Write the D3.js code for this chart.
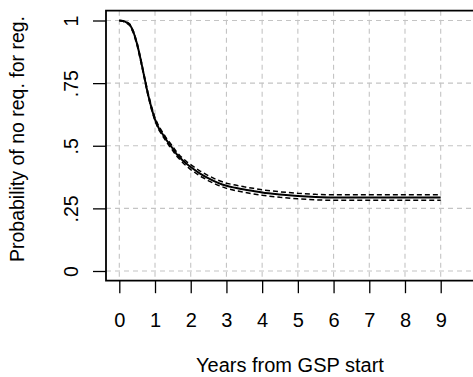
<!DOCTYPE html>
<html>
<head>
<meta charset="utf-8">
<script src="https://cdn.jsdelivr.net/npm/d3@7"></script>
<style>
  html, body { margin: 0; padding: 0; background: #fff; }
  svg { display: block; }
  text { font-family: "Liberation Sans", Arial, Helvetica, sans-serif; fill: #000; }
</style>
</head>
<body>
<script>
// ---- data ----
const xTicks = [0, 1, 2, 3, 4, 5, 6, 7, 8, 9];
const yTicks = [0, 0.25, 0.5, 0.75, 1];
const yTickLabels = ["0", ".25", ".5", ".75", "1"];
const xTitle = "Years from GSP start";
const yTitle = "Probability of no req. for reg.";

const years = [0, 0.1, 0.2, 0.3, 0.4, 0.5, 0.6, 0.7, 0.8, 0.9, 1.0, 1.1, 1.2, 1.3, 1.4, 1.5, 1.6, 1.7, 1.8, 1.9, 2.0,
  2.25, 2.5, 2.75, 3.0, 3.25, 3.5, 3.75, 4.0, 4.5, 5.0, 5.5, 6.0, 6.5, 7.0, 7.5, 8.0, 8.5, 9.0];
const surv = [1.0, 0.998, 0.993, 0.982, 0.952, 0.905, 0.843, 0.775, 0.708, 0.652, 0.605, 0.572, 0.549, 0.527, 0.507, 0.488, 0.468, 0.452, 0.438, 0.426, 0.415,
  0.390, 0.370, 0.353, 0.340, 0.332, 0.325, 0.319, 0.313, 0.305, 0.299, 0.295, 0.293, 0.293, 0.293, 0.293, 0.293, 0.293, 0.293];
const lower = [1.0, 0.997, 0.991, 0.979, 0.948, 0.900, 0.838, 0.770, 0.702, 0.646, 0.599, 0.565, 0.542, 0.520, 0.499, 0.480, 0.460, 0.444, 0.429, 0.417, 0.405,
  0.380, 0.360, 0.343, 0.330, 0.321, 0.314, 0.308, 0.302, 0.294, 0.288, 0.284, 0.282, 0.282, 0.282, 0.282, 0.282, 0.282, 0.282];
const upper = [1.0, 0.999, 0.995, 0.985, 0.956, 0.910, 0.848, 0.780, 0.714, 0.658, 0.611, 0.579, 0.556, 0.534, 0.515, 0.496, 0.476, 0.460, 0.447, 0.435, 0.425,
  0.400, 0.380, 0.363, 0.350, 0.343, 0.336, 0.330, 0.324, 0.316, 0.310, 0.306, 0.304, 0.304, 0.304, 0.304, 0.304, 0.304, 0.304];

// ---- layout ----
const W = 473, H = 377;
const boxL = 106, boxT = 10.7, boxB = 280.7, boxR = 480;

const svg = d3.select("body").append("svg").attr("width", W).attr("height", H);

const x = d3.scaleLinear().domain([0, 9]).range([119.3, 440.7]);
const y = d3.scaleLinear().domain([0, 1]).range([271, 20.5]);

// grid
const grid = svg.append("g").attr("stroke", "#c4c4c4").attr("stroke-width", 1.1).attr("stroke-dasharray", "5,4");
grid.selectAll("line.v").data(xTicks).join("line")
  .attr("x1", d => x(d)).attr("x2", d => x(d)).attr("y1", boxT).attr("y2", boxB);
grid.selectAll("line.h").data(yTicks).join("line")
  .attr("x1", boxL).attr("x2", W).attr("y1", d => y(d)).attr("y2", d => y(d));

// confidence bands
const line = (arr) => d3.line().x((d, i) => x(years[i])).y(d => y(d))(arr);
svg.append("path").attr("d", line(lower)).attr("fill", "none").attr("stroke", "#000")
  .attr("stroke-width", 1.5).attr("stroke-dasharray", "5,3");
svg.append("path").attr("d", line(upper)).attr("fill", "none").attr("stroke", "#000")
  .attr("stroke-width", 1.5).attr("stroke-dasharray", "5,3");
// survival curve
svg.append("path").attr("d", d3.line().curve(d3.curveMonotoneX).x((d, i) => x(years[i])).y(d => y(d))(surv))
  .attr("fill", "none").attr("stroke", "#000").attr("stroke-width", 2);

// box
svg.append("path").attr("d", `M${boxR},${boxT}H${boxL}V${boxB}H${boxR}`)
  .attr("fill", "none").attr("stroke", "#000").attr("stroke-width", 1.8);

// y axis ticks
const yAxis = d3.axisLeft(y).tickValues(yTicks).tickSize(13).tickFormat((d, i) => yTickLabels[i]);
const gy = svg.append("g").attr("transform", `translate(${boxL},0)`).call(yAxis);
gy.select(".domain").remove();
gy.selectAll(".tick line").attr("stroke", "#000").attr("stroke-width", 1.3);
gy.selectAll(".tick text")
  .attr("x", null).attr("dy", null)
  .attr("transform", "translate(-28,0) rotate(-90)")
  .attr("text-anchor", "middle")
  .style("font-size", "19.5px").style("font-family", "'Liberation Sans', Arial, sans-serif").attr("fill", "#000");

// x axis ticks
const xAxis = d3.axisBottom(x).tickValues(xTicks).tickSize(12.5).tickFormat(d3.format("d"));
const gx = svg.append("g").attr("transform", `translate(0,${boxB})`).call(xAxis);
gx.select(".domain").remove();
gx.selectAll(".tick line").attr("stroke", "#000").attr("stroke-width", 1.3);
gx.selectAll(".tick text")
  .attr("y", 46).attr("dy", null)
  .style("font-size", "20px").style("font-family", "'Liberation Sans', Arial, sans-serif").attr("fill", "#000");

// titles
svg.append("text").attr("x", 290).attr("y", 372).attr("text-anchor", "middle")
  .style("font-size", "20px").text(xTitle);
svg.append("text").attr("transform", `translate(23.5,139) rotate(-90)`).attr("text-anchor", "middle")
  .style("font-size", "19.5px").text(yTitle);
</script>
</body>
</html>
